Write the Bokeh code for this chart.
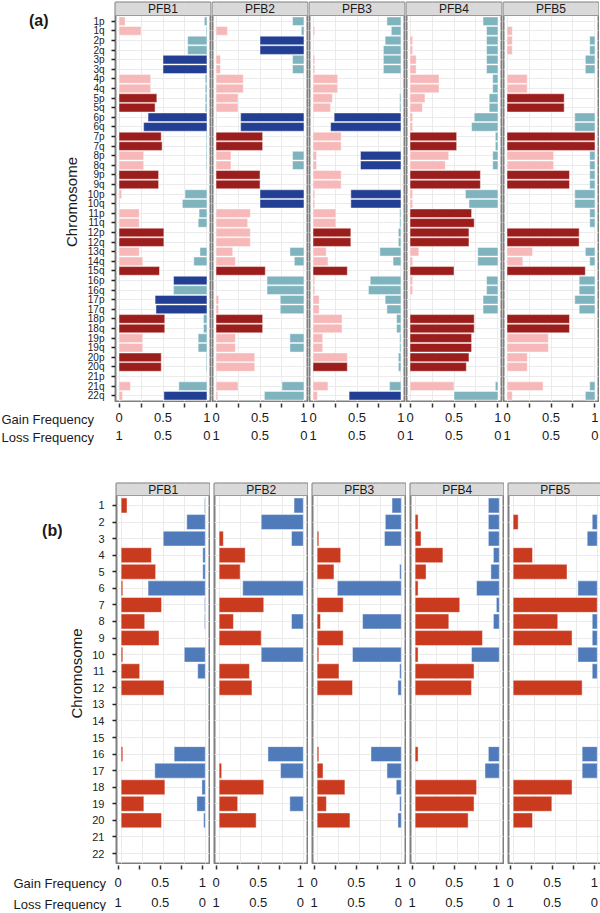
from bokeh.plotting import figure
from bokeh.layouts import row, column
from bokeh.models import Range1d, FixedTicker, LinearAxis, ColumnDataSource, Grid
from bokeh.core.properties import value
from bokeh.embed import file_html
from bokeh.resources import INLINE

FONT = "Liberation Sans"

samples = ["PFB1", "PFB2", "PFB3", "PFB4", "PFB5"]
x_ticks = [0, 0.25, 0.5, 0.75, 1]
gain_tick_labels = ["0", "", "0.5", "", "1"]
loss_tick_values = [0, 0.5, 1]
loss_tick_labels = ["1", "0.5", "0"]
axis_titles = ["Gain Frequency", "Loss Frequency"]

arms = ["1p", "1q", "2p", "2q", "3p", "3q", "4p", "4q", "5p", "5q", "6p", "6q",
        "7p", "7q", "8p", "8q", "9p", "9q", "10p", "10q", "11p", "11q", "12p", "12q",
        "13q", "14q", "15q", "16p", "16q", "17p", "17q", "18p", "18q", "19p", "19q",
        "20p", "20q", "21p", "21q", "22q"]

arm_gain_PFB1 = [.07, .25, 0, 0, 0, 0, .36, .36, .43, .41, .01, 0, .48, .49, .28, .28, .45, .45, .03, .01,
                 .23, .23, .51, .51, .23, .27, .46, .01, .01, 0, .01, .52, .52, .27, .27, .48, .48, 0, .13, .04]
arm_gain_PFB2 = [0, .13, 0, 0, .05, .05, .31, .31, .25, .25, 0, 0, .53, .53, .17, .17, .50, .50, 0, 0,
                 .39, .36, .39, .39, .19, .22, .56, 0, 0, .03, .03, .53, .53, .22, .22, .44, .44, 0, .25, .02]
arm_gain_PFB3 = [0, .02, 0, 0, .02, .02, .28, .28, .22, .20, 0, 0, .32, .32, .04, .04, .32, .32, .02, .02,
                 .26, .26, .43, .43, .15, .17, .39, .02, .02, .07, .07, .33, .33, .11, .11, .39, .39, 0, .17, .05]
arm_gain_PFB4 = [0, 0, .03, .03, .07, .07, .33, .33, .17, .14, .03, .03, .53, .53, .44, .40, .80, .80, .03, .03,
                 .70, .73, .67, .67, .10, .03, .50, .03, .03, 0, 0, .73, .73, .70, .70, .67, .64, 0, .50, 0]
arm_gain_PFB5 = [0, .06, .06, .06, 0, 0, .23, .23, .65, .65, 0, 0, 1.0, 1.0, .53, .53, .71, .71, 0, 0,
                 0, 0, .82, .82, .29, .18, .89, 0, 0, 0, 0, .71, .71, .47, .47, .23, .23, 0, .41, .06]

arm_loss_PFB1 = [.03, .01, .22, .22, .50, .50, .02, .02, .02, .02, .67, .72, .01, .01, .01, .01, 0, 0, .25, .28,
                 .09, .10, 0, 0, .08, .15, 0, .38, .38, .59, .58, .04, .04, .10, .10, .01, .01, 0, .32, .49]
arm_loss_PFB2 = [.13, .03, .50, .50, .13, .13, 0, 0, 0, 0, .72, .72, 0, 0, .13, .13, 0, 0, .50, .50,
                 0, 0, 0, 0, .16, .11, 0, .42, .42, .27, .27, 0, 0, .16, .16, 0, 0, 0, .25, .45]
arm_loss_PFB3 = [.16, .11, .18, .20, .20, .20, 0, 0, .015, .015, .76, .80, 0, 0, .46, .46, 0, 0, .57, .57,
                 .015, .015, .03, .03, .24, .09, 0, .35, .37, .18, .16, .05, .05, .015, .015, .03, .03, 0, .13, .59]
arm_loss_PFB4 = [.17, .13, .13, .13, .13, .13, .06, .06, .10, .10, .27, .30, .03, .03, .06, .06, 0, 0, .37, .33,
                 0, 0, 0, 0, .23, .23, 0, .13, .13, .17, .17, 0, 0, 0, 0, 0, 0, 0, .03, .50]
arm_loss_PFB5 = [0, 0, .06, .06, .11, .11, 0, 0, 0, 0, .23, .23, 0, 0, .06, .06, .06, .06, .23, .23,
                 .06, .06, 0, 0, .11, .06, 0, .18, .18, .23, .18, 0, 0, 0, 0, 0, 0, 0, .06, .11]

arm_gain_sig_PFB1 = [0, 0, 0, 0, 0, 0, 0, 0, 1, 1, 0, 0, 1, 1, 0, 0, 1, 1, 0, 0,
                     0, 0, 1, 1, 0, 0, 1, 0, 0, 0, 0, 1, 1, 0, 0, 1, 1, 0, 0, 0]
arm_gain_sig_PFB2 = [0, 0, 0, 0, 0, 0, 0, 0, 0, 0, 0, 0, 1, 1, 0, 0, 1, 1, 0, 0,
                     0, 0, 0, 0, 0, 0, 1, 0, 0, 0, 0, 1, 1, 0, 0, 0, 0, 0, 0, 0]
arm_gain_sig_PFB3 = [0, 0, 0, 0, 0, 0, 0, 0, 0, 0, 0, 0, 0, 0, 0, 0, 0, 0, 0, 0,
                     0, 0, 1, 1, 0, 0, 1, 0, 0, 0, 0, 0, 0, 0, 0, 0, 1, 0, 0, 0]
arm_gain_sig_PFB4 = [0, 0, 0, 0, 0, 0, 0, 0, 0, 0, 0, 0, 1, 1, 0, 0, 1, 1, 0, 0,
                     1, 1, 1, 1, 0, 0, 1, 0, 0, 0, 0, 1, 1, 1, 1, 1, 1, 0, 0, 0]
arm_gain_sig_PFB5 = [0, 0, 0, 0, 0, 0, 0, 0, 1, 1, 0, 0, 1, 1, 0, 0, 1, 1, 0, 0,
                     0, 0, 1, 1, 0, 0, 1, 0, 0, 0, 0, 1, 1, 0, 0, 0, 0, 0, 0, 0]

arm_loss_sig_PFB1 = [0, 0, 0, 0, 1, 1, 0, 0, 0, 0, 1, 1, 0, 0, 0, 0, 0, 0, 0, 0,
                     0, 0, 0, 0, 0, 0, 0, 1, 0, 1, 1, 0, 0, 0, 0, 0, 0, 0, 0, 1]
arm_loss_sig_PFB2 = [0, 0, 1, 1, 0, 0, 0, 0, 0, 0, 1, 1, 0, 0, 0, 0, 0, 0, 1, 1,
                     0, 0, 0, 0, 0, 0, 0, 0, 0, 0, 0, 0, 0, 0, 0, 0, 0, 0, 0, 0]
arm_loss_sig_PFB3 = [0, 0, 0, 0, 0, 0, 0, 0, 0, 0, 1, 1, 0, 0, 1, 1, 0, 0, 1, 1,
                     0, 0, 0, 0, 0, 0, 0, 0, 0, 0, 0, 0, 0, 0, 0, 0, 0, 0, 0, 1]
arm_loss_sig_PFB4 = [0] * 40
arm_loss_sig_PFB5 = [0] * 40

chromosomes = ["1", "2", "3", "4", "5", "6", "7", "8", "9", "10", "11",
               "12", "13", "14", "15", "16", "17", "18", "19", "20", "21", "22"]

chr_gain_PFB1 = [.07, 0, 0, .36, .41, .02, .48, .28, .45, .02, .22, .51, 0, 0, 0, .02, 0, .52, .27, .48, 0, 0]
chr_gain_PFB2 = [0, 0, .05, .31, .25, 0, .53, .17, .50, 0, .36, .39, 0, 0, 0, 0, .03, .53, .22, .44, 0, 0]
chr_gain_PFB3 = [0, 0, .02, .28, .20, 0, .31, .04, .31, .02, .26, .42, 0, 0, 0, .02, .07, .33, .11, .39, 0, 0]
chr_gain_PFB4 = [0, .035, .07, .33, .13, .035, .53, .40, .80, .035, .70, .67, 0, 0, 0, .035, 0, .73, .70, .63, 0, 0]
chr_gain_PFB5 = [0, .06, 0, .23, .64, 0, 1.0, .53, .70, 0, 0, .82, 0, 0, 0, 0, 0, .70, .46, .23, 0, 0]

chr_loss_PFB1 = [.01, .22, .50, .03, .03, .68, .01, .01, 0, .25, .09, 0, 0, 0, 0, .37, .60, .04, .10, .02, 0, 0]
chr_loss_PFB2 = [.11, .50, .14, 0, 0, .72, 0, .14, 0, .50, 0, 0, 0, 0, 0, .42, .27, 0, .16, 0, 0, 0]
chr_loss_PFB3 = [.11, .19, .20, 0, .02, .76, 0, .46, 0, .58, .02, .04, 0, 0, 0, .36, .17, .06, .02, .04, 0, 0]
chr_loss_PFB4 = [.13, .13, .13, .07, .10, .27, .035, .07, 0, .33, 0, 0, 0, 0, 0, .13, .17, 0, 0, 0, 0, 0]
chr_loss_PFB5 = [0, .06, .12, 0, 0, .23, 0, .06, .06, .23, .06, 0, 0, 0, 0, .18, .18, 0, 0, 0, 0, 0]

A_GAIN, A_GAIN_SIG = "#F6B8B8", "#9B1E1C"
A_LOSS, A_LOSS_SIG = "#7FB4BE", "#233F94"
B_GAIN, B_LOSS = "#C93A1F", "#4F7BBA"
INK = "#1A1A1A"


def blank(w, h):
    """A figure whose frame is its whole canvas, in pixel units (y downwards)."""
    p = figure(frame_width=w, frame_height=h, x_range=Range1d(0, w), y_range=Range1d(h, 0),
               output_backend="svg", toolbar_location=None,
               x_axis_location=None, y_axis_location=None,
               min_border_left=0, min_border_right=0, min_border_top=0, min_border_bottom=0)
    p.outline_line_color = None
    p.background_fill_color = "white"
    p.border_fill_color = "white"
    p.center = []
    return p


def section(tag, cats, gains, losses, gsigs, lsigs, gcols, lcols, cfg):
    n = len(cats)
    ys = list(range(1, n + 1))
    W, H, strip, top = cfg["W"], cfg["H"], cfg["strip"], cfg["top"]
    XMIN, XMAX = cfg["xr"]
    ybot = n + 0.6
    pitch = (H - strip) / (n + 0.2)
    ytop = 0.4 - strip / pitch

    # --- top row: section tag + five facet panels ---
    tagfig = blank(cfg["tag_w"], top + H + 1)
    tagfig.text(x=[cfg["tag_x"]], y=[cfg["tag_y"]], text=[tag], text_align="right",
                text_baseline="middle", text_font=value(FONT), text_font_style="bold",
                text_font_size=cfg["tag_fs"], text_color=INK)
    top_figs = [tagfig]
    for i, name in enumerate(samples):
        first = i == 0
        p = figure(frame_width=W, frame_height=H,
                   x_range=Range1d(XMIN, XMAX), y_range=Range1d(ybot, ytop),
                   output_backend="svg", toolbar_location=None,
                   x_axis_location=None, y_axis_location=None,
                   min_border_left=cfg["L"] if first else 1, min_border_right=1,
                   min_border_top=top, min_border_bottom=1)
        p.outline_line_color = "#7F7F7F"
        p.outline_line_width = 2
        p.background_fill_color = "white"
        p.border_fill_color = "white"
        p.center = []
        p.add_layout(Grid(dimension=0, ticker=FixedTicker(ticks=x_ticks),
                          grid_line_color="#EBEBEB", grid_line_width=1))
        p.add_layout(Grid(dimension=1, ticker=FixedTicker(ticks=ys),
                          grid_line_color="#EBEBEB", grid_line_width=1))

        g, l = gains[i], losses[i]
        gs = gsigs[i] if gsigs else [0] * n
        ls = lsigs[i] if lsigs else [0] * n
        gsrc = ColumnDataSource(dict(
            y=[y for y, v in zip(ys, g) if v > 0],
            right=[v for v in g if v > 0],
            color=[gcols[s] for v, s in zip(g, gs) if v > 0]))
        lsrc = ColumnDataSource(dict(
            y=[y for y, v in zip(ys, l) if v > 0],
            left=[1 - v for v in l if v > 0],
            color=[lcols[s] for v, s in zip(l, ls) if v > 0]))
        p.hbar(y="y", left=0, right="right", height=0.9, fill_color="color",
               line_color="white", line_alpha=0.45, line_width=1, source=gsrc)
        p.hbar(y="y", left="left", right=1, height=0.9, fill_color="color",
               line_color="white", line_alpha=0.45, line_width=1, source=lsrc)

        # facet strip
        p.quad(left=[XMIN - 0.5], right=[XMAX + 0.5], bottom=[0.4], top=[ytop - 1],
               fill_color="#D9D9D9", line_color="#9A9A9A", line_width=1)
        p.text(x=[0.5], y=[(0.4 + ytop) / 2], text=[name], text_align="center",
               text_baseline="middle", text_font=value(FONT),
               text_font_size=cfg["strip_fs"], text_color=INK)

        if first:
            ay = LinearAxis(ticker=FixedTicker(ticks=ys),
                            major_label_overrides=dict(zip(ys, cats)),
                            axis_label="Chromosome")
            ay.axis_line_color = None
            ay.minor_tick_line_color = None
            ay.major_tick_in = 0
            ay.major_tick_out = 4
            ay.major_tick_line_color = "#222222"
            ay.major_tick_line_width = 1.5
            ay.major_label_standoff = cfg["yso"]
            ay.major_label_text_font = FONT
            ay.major_label_text_font_size = cfg["yfs"]
            ay.major_label_text_color = "#222222"
            ay.axis_label_text_font = FONT
            ay.axis_label_text_font_size = "15px"
            ay.axis_label_text_font_style = "normal"
            ay.axis_label_text_color = INK
            ay.axis_label_standoff = cfg["lso"]
            p.add_layout(ay, "left")
        top_figs.append(p)

    # --- bottom row: axis titles + gain / loss frequency axes ---
    bh = 1 + cfg["bottom"]
    labfig = blank(cfg["lab_w"], bh)
    labfig.text(x=[cfg["lab_x"]] * 2, y=[cfg["g_y"], cfg["l_y"]], text=axis_titles,
                text_align="left", text_baseline="middle", text_font=value(FONT),
                text_font_size="13px", text_color=INK)
    bot_figs = [labfig]
    for i in range(len(samples)):
        q = figure(frame_width=W, frame_height=1, x_range=Range1d(XMIN, XMAX),
                   y_range=Range1d(0, 1), output_backend="svg", toolbar_location=None,
                   x_axis_location=None, y_axis_location=None,
                   min_border_left=1, min_border_right=1, min_border_top=0,
                   min_border_bottom=cfg["bottom"])
        q.outline_line_color = None
        q.background_fill_color = "white"
        q.border_fill_color = "white"
        q.center = []
        ax1 = LinearAxis(ticker=FixedTicker(ticks=x_ticks),
                         major_label_overrides=dict(zip(x_ticks, gain_tick_labels)))
        ax2 = LinearAxis(ticker=FixedTicker(ticks=loss_tick_values),
                         major_label_overrides=dict(zip(loss_tick_values, loss_tick_labels)))
        for ax, so in ((ax1, cfg["so1"]), (ax2, cfg["so2"])):
            ax.axis_line_color = None
            ax.minor_tick_line_color = None
            ax.major_tick_in = 0
            ax.major_label_standoff = so
            ax.major_label_text_font = FONT
            ax.major_label_text_font_size = "13px"
            ax.major_label_text_color = INK
        ax1.major_tick_out = 4
        ax1.major_tick_line_color = "#333333"
        ax1.major_tick_line_width = 1.5
        ax2.major_tick_out = 0
        ax2.major_tick_line_color = None
        q.add_layout(ax1, "below")
        q.add_layout(ax2, "below")
        bot_figs.append(q)

    sp = cfg["spacing"]
    return column(row(top_figs, spacing=sp), row(bot_figs, spacing=sp), spacing=0)


cfg_a = dict(W=95, H=399, strip=13, top=2, L=60, spacing=0, xr=(-0.04, 1.04),
             tag_w=55, tag_x=48, tag_y=18, tag_fs="16px",
             yso=7, yfs="10px", lso=5, strip_fs="12px",
             bottom=44, so1=5, so2=6, lab_w=114, lab_x=1, g_y=16.5, l_y=34.5)
cfg_b = dict(W=93, H=380, strip=12, top=36, L=48, spacing=3, xr=(-0.055, 1.05),
             tag_w=62, tag_x=62, tag_y=47, tag_fs="16px",
             yso=8, yfs="11px", lso=4, strip_fs="12px",
             bottom=46, so1=8, so2=8, lab_w=109, lab_x=13, g_y=18.5, l_y=39.5)

sec_a = section("(a)", arms,
                [arm_gain_PFB1, arm_gain_PFB2, arm_gain_PFB3, arm_gain_PFB4, arm_gain_PFB5],
                [arm_loss_PFB1, arm_loss_PFB2, arm_loss_PFB3, arm_loss_PFB4, arm_loss_PFB5],
                [arm_gain_sig_PFB1, arm_gain_sig_PFB2, arm_gain_sig_PFB3, arm_gain_sig_PFB4, arm_gain_sig_PFB5],
                [arm_loss_sig_PFB1, arm_loss_sig_PFB2, arm_loss_sig_PFB3, arm_loss_sig_PFB4, arm_loss_sig_PFB5],
                [A_GAIN, A_GAIN_SIG], [A_LOSS, A_LOSS_SIG], cfg_a)
sec_b = section("(b)", chromosomes,
                [chr_gain_PFB1, chr_gain_PFB2, chr_gain_PFB3, chr_gain_PFB4, chr_gain_PFB5],
                [chr_loss_PFB1, chr_loss_PFB2, chr_loss_PFB3, chr_loss_PFB4, chr_loss_PFB5],
                None, None, [B_GAIN, B_GAIN], [B_LOSS, B_LOSS], cfg_b)

layout = column(sec_a, sec_b, spacing=0)
open("out.html", "w").write(file_html(layout, INLINE))
